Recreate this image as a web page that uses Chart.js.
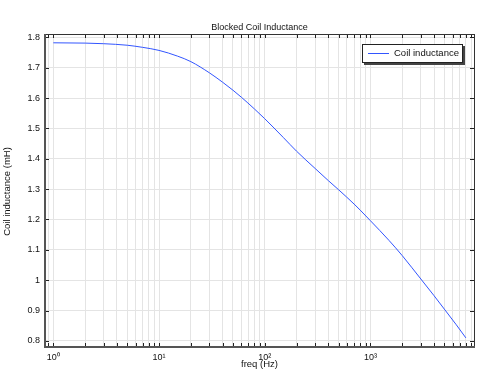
<!DOCTYPE html>
<html><head><meta charset="utf-8">
<script src="https://cdn.jsdelivr.net/npm/chart.js@4/dist/chart.umd.min.js"></script>
<style>html,body{margin:0;padding:0;background:#fff;}canvas{display:block;}</style>
</head><body>
<canvas id="c" width="481" height="375"></canvas>
<script>
// ---- data ----
const freq = [1, 2, 3, 5, 7, 10, 15, 20, 30, 40, 50, 60, 80, 100, 150, 200, 300, 400, 500, 700, 800, 1000, 1500, 2000, 3000, 4000, 5000, 6500, 8000];
const inductance = [1.782, 1.781, 1.779, 1.774, 1.767, 1.757, 1.738, 1.720, 1.683, 1.652, 1.626, 1.603, 1.564, 1.532, 1.470, 1.425, 1.368, 1.328, 1.298, 1.251, 1.231, 1.196, 1.131, 1.081, 1.004, 0.949, 0.905, 0.853, 0.810];
const xDecades = [1, 10, 100, 1000];
const xTickLabels = ['10\u2070', '10\u00b9', '10\u00b2', '10\u00b3'];
const yTicks = [0.8, 0.9, 1.0, 1.1, 1.2, 1.3, 1.4, 1.5, 1.6, 1.7, 1.8];
const yTickLabels = ['0.8', '0.9', '1', '1.1', '1.2', '1.3', '1.4', '1.5', '1.6', '1.7', '1.8'];
const chartTitle = 'Blocked Coil Inductance';
const xTitle = 'freq (Hz)';
const yTitle = 'Coil inductance (mH)';
const seriesName = 'Coil inductance';

const X_MIN = 0.834, X_MAX = 9550, Y_MIN = 0.780, Y_MAX = 1.811;
const FONT = "'Liberation Sans', Arial, sans-serif";

// all log ticks (1..9 x decade) within range
const xAllTicks = [];
[0.1, 1, 10, 100, 1000].forEach(d => { for (let k = 1; k <= 9; k++) { const v = k * d; if (v >= X_MIN && v <= X_MAX) xAllTicks.push(v); } });

const points = freq.map((f, i) => ({ x: f, y: inductance[i] }));

const decor = {
  id: 'decor',
  afterDraw(chart) {
    const ctx = chart.ctx, a = chart.chartArea;
    const xs = chart.scales.x, ys = chart.scales.y;
    ctx.save();
    // inward ticks
    ctx.strokeStyle = '#222'; ctx.lineWidth = 1;
    ctx.beginPath();
    xAllTicks.forEach(v => {
      const px = Math.round(xs.getPixelForValue(v)) + 0.5;
      ctx.moveTo(px, a.bottom); ctx.lineTo(px, a.bottom - 4);
      ctx.moveTo(px, a.top); ctx.lineTo(px, a.top + 4);
    });
    yTicks.forEach(v => {
      const py = Math.round(ys.getPixelForValue(v)) + 0.5;
      ctx.moveTo(a.left, py); ctx.lineTo(a.left + 4, py);
      ctx.moveTo(a.right, py); ctx.lineTo(a.right - 4, py);
    });
    ctx.stroke();
    // frame
    ctx.strokeStyle = '#333'; ctx.lineWidth = 1;
    ctx.beginPath();
    ctx.moveTo(a.left, a.top + 0.5); ctx.lineTo(a.right + 0.5, a.top + 0.5);
    ctx.moveTo(a.right + 0.5, a.top); ctx.lineTo(a.right + 0.5, a.bottom);
    ctx.stroke();
    ctx.strokeStyle = '#555'; ctx.lineWidth = 2;
    ctx.beginPath();
    ctx.moveTo(a.left, a.top); ctx.lineTo(a.left, a.bottom + 1);
    ctx.moveTo(a.left - 1, a.bottom); ctx.lineTo(a.right + 1, a.bottom);
    ctx.stroke();
    // titles
    ctx.fillStyle = '#111';
    ctx.textAlign = 'center'; ctx.textBaseline = 'middle';
    ctx.font = '9px ' + FONT;
    ctx.fillText(chartTitle, (a.left + a.right) / 2, 27.5);
    ctx.font = '9.5px ' + FONT;
    ctx.fillText(xTitle, (a.left + a.right) / 2, 364);
    ctx.save();
    ctx.translate(7, (a.top + a.bottom) / 2 + 1);
    ctx.rotate(-Math.PI / 2);
    ctx.fillText(yTitle, 0, 0);
    ctx.restore();
    // legend
    const lx = 362, ly = 44, lw = 101, lh = 19;
    ctx.fillStyle = '#444';
    ctx.fillRect(lx + 2, ly + 2, lw, lh);
    ctx.fillStyle = '#fff';
    ctx.fillRect(lx, ly, lw, lh);
    ctx.strokeStyle = '#222'; ctx.lineWidth = 1;
    ctx.strokeRect(lx + 0.5, ly + 0.5, lw - 1, lh - 1);
    ctx.strokeStyle = chart.data.datasets[0].borderColor;
    ctx.beginPath(); ctx.moveTo(368, 53.5); ctx.lineTo(389, 53.5); ctx.stroke();
    ctx.fillStyle = '#111'; ctx.textAlign = 'left'; ctx.textBaseline = 'middle';
    ctx.font = '9.5px ' + FONT;
    ctx.fillText(chart.data.datasets[0].label, 394, 53.5);
    ctx.restore();
  }
};

new Chart(document.getElementById('c'), {
  type: 'line',
  data: { datasets: [{ label: seriesName, data: points, borderColor: 'rgb(50,85,255)', borderWidth: 1, pointRadius: 0, fill: false, cubicInterpolationMode: 'monotone' }] },
  options: {
    responsive: false, animation: false, devicePixelRatio: 1,
    layout: { padding: { top: 34, right: 7, left: 0, bottom: 0 } },
    plugins: { legend: { display: false }, title: { display: false }, tooltip: { enabled: false } },
    scales: {
      x: {
        type: 'logarithmic', min: X_MIN, max: X_MAX,
        afterBuildTicks: s => { s.ticks = xAllTicks.map(v => ({ value: v })); },
        afterFit: s => { s.height = 28; s.paddingLeft = 0; s.paddingRight = 0; },
        grid: { color: '#e4e4e4', lineWidth: 1, drawTicks: false },
        border: { display: false },
        ticks: {
          autoSkip: false, maxRotation: 0, padding: 5, color: '#111', font: { family: FONT, size: 9 },
          callback: (v) => { const i = xDecades.findIndex(d => Math.abs(d - v) < 1e-9); return i >= 0 ? xTickLabels[i] : ''; }
        }
      },
      y: {
        type: 'linear', min: Y_MIN, max: Y_MAX,
        afterBuildTicks: s => { s.ticks = yTicks.map(v => ({ value: v })); },
        afterFit: s => { s.width = 45; s.paddingTop = 0; s.paddingBottom = 0; },
        grid: { color: '#e4e4e4', lineWidth: 1, drawTicks: false },
        border: { display: false },
        ticks: {
          autoSkip: false, padding: 5, color: '#111', font: { family: FONT, size: 9 },
          callback: (v) => { const i = yTicks.findIndex(t => Math.abs(t - v) < 1e-9); return i >= 0 ? yTickLabels[i] : ''; }
        }
      }
    }
  },
  plugins: [decor]
});
</script>
</body></html>
